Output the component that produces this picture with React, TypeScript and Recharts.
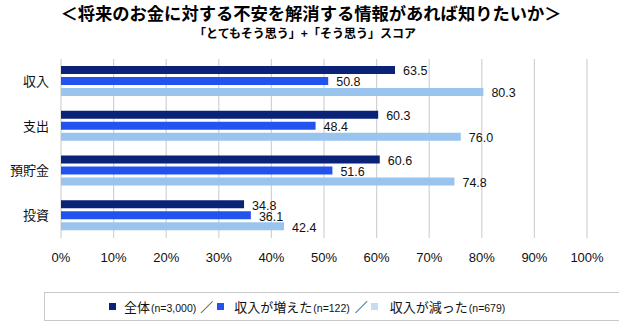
import { BarChart, Bar, XAxis, YAxis, CartesianGrid, LabelList } from "recharts";

const categories = ["収入", "支出", "預貯金", "投資"];
const allValues = [63.5, 60.3, 60.6, 34.8];
const increasedValues = [50.8, 48.4, 51.6, 36.1];
const decreasedValues = [80.3, 76.0, 74.8, 42.4];
const xTicks = [0, 10, 20, 30, 40, 50, 60, 70, 80, 90, 100];

const TITLE = "＜将来のお金に対する不安を解消する情報があれば知りたいか＞";
const SUBTITLE = "「とてもそう思う」+「そう思う」スコア";

const SERIES = [
  { key: "all", name: "全体", n: "(n=3,000)", color: "#0b2377", legendColor: "#0b2377" },
  { key: "increased", name: "収入が増えた", n: "(n=122)", color: "#2253ee", legendColor: "#2253ee" },
  { key: "decreased", name: "収入が減った", n: "(n=679)", color: "#98c4ee", legendColor: "#c6dcf2" },
];

const FONT = "'Liberation Sans', 'Noto Sans CJK JP', sans-serif";
const CJK = "'Noto Sans CJK JP', sans-serif";

const data = categories.map((name, i) => ({
  name,
  all: allValues[i],
  increased: increasedValues[i],
  decreased: decreasedValues[i],
}));

function LegendBox() {
  const sq = (c: string) => (
    <span style={{ display: "inline-block", width: 7, height: 7, background: c }} />
  );
  const slash = <span style={{ fontSize: 13, fontFamily: CJK, color: "#222" }}>／</span>;
  const label = (s: (typeof SERIES)[number]) => (
    <span style={{ display: "inline-flex", alignItems: "baseline" }}>
      <span style={{ fontSize: 13, fontFamily: CJK, color: "#111" }}>{s.name}</span>
      <span style={{ fontSize: 10.5, fontFamily: FONT, color: "#111", marginLeft: 1 }}>{s.n}</span>
    </span>
  );
  return (
    <div
      style={{
        position: "absolute",
        left: 44,
        top: 292,
        width: 527,
        height: 27,
        border: "1px solid #c8c8c8",
        background: "#fff",
        display: "flex",
        alignItems: "center",
        justifyContent: "flex-start",
        paddingLeft: 64,
        boxSizing: "content-box",
      }}
    >
      {sq(SERIES[0].legendColor)}
      <span style={{ width: 8 }} />
      {label(SERIES[0])}
      <span style={{ width: 4 }} />
      {slash}
      <span style={{ width: 4 }} />
      {sq(SERIES[1].legendColor)}
      <span style={{ width: 10 }} />
      {label(SERIES[1])}
      <span style={{ width: 5 }} />
      {slash}
      <span style={{ width: 3 }} />
      {sq(SERIES[2].legendColor)}
      <span style={{ width: 12 }} />
      {label(SERIES[2])}
    </div>
  );
}

export default function App() {
  return (
    <div
      style={{
        position: "absolute",
        left: 0,
        top: 0,
        width: 619,
        height: 331,
        background: "#fff",
        overflow: "hidden",
      }}
    >
      <div
        style={{
          position: "absolute",
          left: 0,
          top: 3,
          width: 622,
          textAlign: "center",
          fontFamily: CJK,
          fontWeight: 700,
          fontSize: 17.3,
          lineHeight: "20px",
          color: "#000",
          whiteSpace: "nowrap",
        }}
      >
        {TITLE}
      </div>
      <div
        style={{
          position: "absolute",
          left: 0,
          top: 25,
          width: 610,
          textAlign: "center",
          fontFamily: CJK,
          fontWeight: 700,
          fontSize: 12,
          lineHeight: "16px",
          color: "#000",
          whiteSpace: "nowrap",
        }}
      >
        {SUBTITLE}
      </div>
      <div style={{ position: "absolute", left: 0, top: 0 }}>
        <BarChart
          width={619}
          height={331}
          data={data}
          layout="vertical"
          margin={{ top: 59, right: 32, bottom: 63, left: 0 }}
          barSize={8}
          barGap={3}
        >
          <CartesianGrid horizontal={false} stroke="#d2d2d2" strokeWidth={1.2} />
          <XAxis
            type="number"
            domain={[0, 100]}
            ticks={xTicks}
            tickFormatter={(v) => `${v}%`}
            axisLine={false}
            tickLine={false}
            tickMargin={9}
            height={30}
            tick={{ fontSize: 13, fill: "#111", fontFamily: FONT }}
            interval={0}
          />
          <YAxis
            type="category"
            dataKey="name"
            width={61}
            axisLine={false}
            tickLine={false}
            tickMargin={6}
            tick={{ fontSize: 13, fill: "#111", fontFamily: CJK }}
          />
          {SERIES.map((s) => (
            <Bar key={s.key} dataKey={s.key} name={s.name} fill={s.color} isAnimationActive={false}>
              <LabelList
                dataKey={s.key}
                position="right"
                offset={8}
                dy={1}
                formatter={(v: any) => Number(v).toFixed(1)}
                style={{ fontSize: 12.5, fill: "#111", fontFamily: FONT }}
              />
            </Bar>
          ))}
        </BarChart>
      </div>
      <LegendBox />
    </div>
  );
}
